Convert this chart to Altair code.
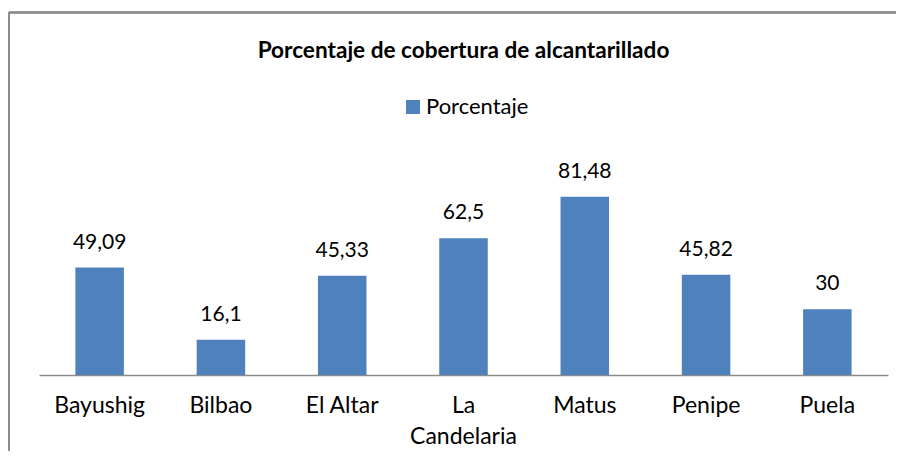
import altair as alt
import pandas as pd

categories = ["Bayushig", "Bilbao", "El Altar", "La Candelaria", "Matus", "Penipe", "Puela"]
values = [49.09, 16.1, 45.33, 62.5, 81.48, 45.82, 30]
series_name = "Porcentaje"
title_text = "Porcentaje de cobertura de alcantarillado"

df = pd.DataFrame({
    "Comunidad": categories,
    "Valor": values,
    "Etiqueta": [f"{v:g}".replace(".", ",") for v in values],
    "Serie": [series_name] * len(categories),
})

FONT = "Lato"
x_enc = alt.X(
    "Comunidad:N",
    sort=categories,
    scale=alt.Scale(paddingInner=0.6, paddingOuter=0.3),
    axis=alt.Axis(
        title=None,
        labelAngle=0,
        ticks=False,
        labelFontSize=23,
        labelFont=FONT,
        labelColor="#000000",
        labelPadding=19,
        labelLineHeight=31,
        labelExpr="datum.label == 'La Candelaria' ? ['La', 'Candelaria'] : datum.label",
        domainColor="#8c8c8c",
        domainWidth=1.5,
        grid=False,
    ),
)
y_enc = alt.Y("Valor:Q", scale=alt.Scale(domain=[0, 90]), axis=None)

bars = alt.Chart(df).mark_bar(color="#4F81BD").encode(
    x=x_enc,
    y=y_enc,
    color=alt.Color(
        "Serie:N",
        scale=alt.Scale(range=["#4F81BD"]),
        legend=alt.Legend(
            title=None,
            orient="none",
            legendX=363,
            legendY=-82,
            symbolType="square",
            symbolSize=196,
            symbolStrokeWidth=0,
            labelFontSize=22,
            labelFont=FONT,
            labelColor="#000000",
            padding=0,
            labelOffset=2,
        ),
    ),
)

labels = alt.Chart(df).mark_text(
    baseline="middle", dy=-25, fontSize=21, font=FONT, color="#000000"
).encode(x=x_enc, y=y_enc, text="Etiqueta:N")

border_top = alt.Chart(df).mark_rule(color="#8c8c8c", strokeWidth=1.5).encode(
    x=alt.value(-30), x2=alt.value(857), y=alt.value(-165.5)
)
border_left = alt.Chart(df).mark_rule(color="#8c8c8c", strokeWidth=1.5).encode(
    x=alt.value(-30), y=alt.value(-165.5), y2=alt.value(273)
)

chart = alt.layer(border_top, border_left, bars, labels).properties(
    width=849,
    height=197,
    title=alt.TitleParams(
        title_text, fontSize=22.6, font=FONT, fontWeight="bold", color="#000000",
        anchor="middle", offset=0, dx=0, dy=74, baseline="bottom",
    ),
    autosize=alt.AutoSizeParams(type="none"),
    padding={"left": 31, "top": 170, "right": 8, "bottom": 76},
).configure_view(stroke=None)

chart.save("out.html", embed_options={"renderer": "svg", "actions": False})
